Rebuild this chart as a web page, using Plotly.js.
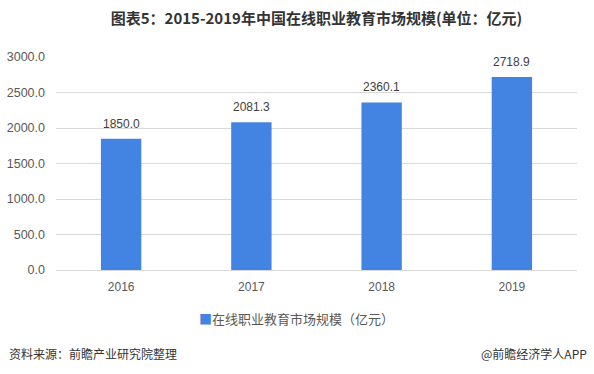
<!DOCTYPE html>
<html>
<head>
<meta charset="utf-8">
<script src="https://cdn.plot.ly/plotly-3.0.1.min.js"></script>
<style>html,body{margin:0;padding:0;background:#fff;}#chart{width:594px;height:374px;}</style>
</head>
<body>
<div id="chart"></div>
<script>
const years = ['2016', '2017', '2018', '2019'];
const marketSize = [1850.0, 2081.3, 2360.1, 2718.9];
const yTicks = [0, 500, 1000, 1500, 2000, 2500, 3000];
const seriesName = '在线职业教育市场规模（亿元）';

const CJK = '"Noto Sans CJK SC", "Microsoft YaHei", sans-serif';
const LAT = 'Arial, "Liberation Sans", sans-serif';
const BAR_COLOR = '#4384E2';
const L = 56, R = 577, T = 57, B = 270;
const pw = R - L, ph = B - T;
const px = x => (x - L) / pw;
const py = y => (B - y) / ph;

const trace = {
  type: 'bar',
  x: years,
  y: marketSize,
  name: seriesName,
  marker: {color: BAR_COLOR},
  showlegend: false,
  hoverinfo: 'none'
};

// category axis: annotation x is the category index
const valueLabels = years.map((yr, i) => ({
  x: i, y: marketSize[i], xref: 'x', yref: 'y',
  text: marketSize[i].toFixed(1),
  showarrow: false, yanchor: 'bottom', yshift: 6,
  font: {family: LAT, size: 12, color: '#404040'}
}));

const layout = {
  width: 594, height: 374,
  margin: {l: L, r: 594 - R, t: T, b: 374 - B},
  paper_bgcolor: '#fff', plot_bgcolor: '#fff',
  bargap: 0.69,
  title: {
    text: '<b>图表5：2015-2019年中国在线职业教育市场规模(单位：亿元)</b>',
    font: {family: CJK, size: 15, color: '#333333'},
    x: 0.5, xanchor: 'center', xref: 'paper',
    y: 1 - 19 / 374, yanchor: 'middle', yref: 'container'
  },
  xaxis: {
    type: 'category',
    categoryarray: years,
    range: [-0.5, years.length - 0.5],
    showgrid: false, zeroline: false, showline: false,
    ticks: '',
    ticklabelstandoff: 8,
    tickfont: {family: LAT, size: 12, color: '#595959'},
    fixedrange: true
  },
  yaxis: {
    range: [0, 3000],
    tickvals: yTicks,
    ticktext: yTicks.map(v => v.toFixed(1)),
    showgrid: true, gridcolor: '#D9D9D9', gridwidth: 1,
    zeroline: true, zerolinecolor: '#D9D9D9', zerolinewidth: 1,
    showline: false, ticks: '',
    ticklabelstandoff: 10,
    tickfont: {family: LAT, size: 12.5, color: '#595959'},
    fixedrange: true
  },
  showlegend: false,
  annotations: valueLabels.concat([
    {
      text: '<span style="color:' + BAR_COLOR + '">■</span>' + seriesName,
      xref: 'paper', yref: 'paper',
      x: px(296), xanchor: 'center',
      y: py(318), yanchor: 'middle',
      showarrow: false,
      font: {family: CJK, size: 13, color: '#595959'}
    },
    {
      text: '资料来源：前瞻产业研究院整理',
      xref: 'paper', yref: 'paper',
      x: px(7), xanchor: 'left',
      y: py(353), yanchor: 'middle',
      showarrow: false,
      font: {family: CJK, size: 12, color: '#333333'}
    },
    {
      text: '@前瞻经济学人APP',
      xref: 'paper', yref: 'paper',
      x: px(589), xanchor: 'right',
      y: py(353), yanchor: 'middle',
      showarrow: false,
      font: {family: CJK, size: 12, color: '#333333'}
    }
  ])
};

Plotly.newPlot('chart', [trace], layout, {displayModeBar: false, staticPlot: true});
</script>
</body>
</html>
